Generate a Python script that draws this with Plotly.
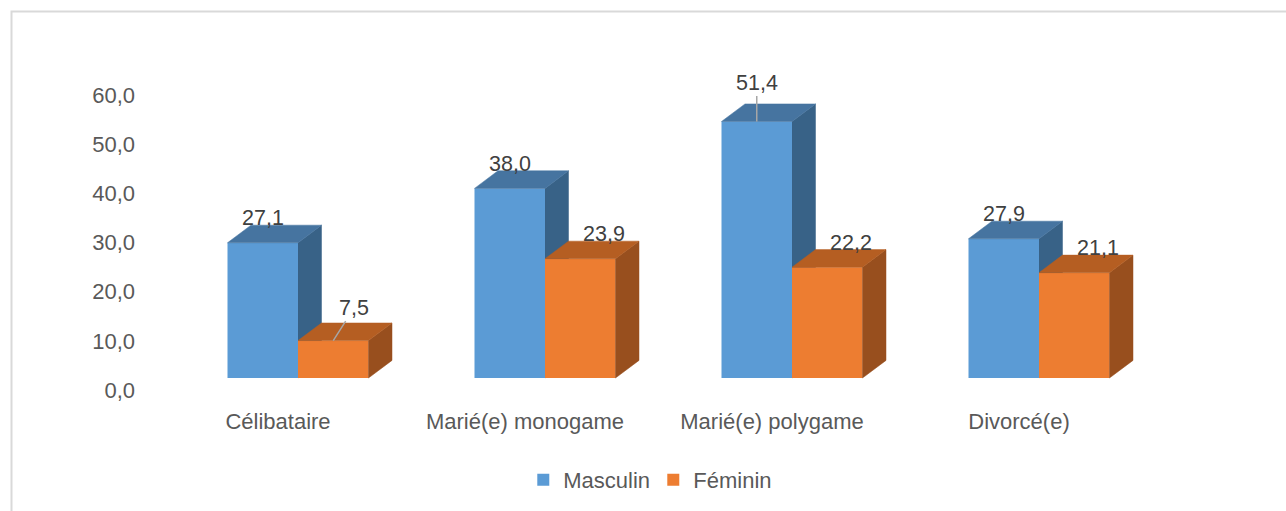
import plotly.graph_objects as go

categories = ["Célibataire", "Marié(e) monogame", "Marié(e) polygame", "Divorcé(e)"]
masculin = [27.1, 38.0, 51.4, 27.9]
feminin = [7.5, 23.9, 22.2, 21.1]
y_ticks = [0, 10, 20, 30, 40, 50, 60]

# pixel layout of the picture (Excel-like 3D columns)
W, H = 1286, 511
L, R, T, B = 150, 1180, 60, 400
X_PX = 247.0    # px between two categories
Y_PX = 4.99     # px per unit on the front faces
BASE_PX = 378   # pixel row of 0 on the front faces
X0_PX = 298     # pixel column of the first category
x_range = [(L - X0_PX) / X_PX, (R - X0_PX) / X_PX]
y_range = [(BASE_PX - B) / Y_PX, (BASE_PX - T) / Y_PX]
# axis labels sit on the back wall: 0 at 390 px, 60 at 95 px
LAB_PX = (390 - 95) / 60
lab_range = [(390 - B) / LAB_PX, (390 - T) / LAB_PX]

bar_w = 70.5 / X_PX
DX_PX, DY_PX = 23.5, 17.6
dx = DX_PX / X_PX
dy = DY_PX / Y_PX

series = [
    ("Masculin", masculin, -bar_w, "#5B9BD5", "#4674A0", "#386287"),
    ("Féminin", feminin, 0.0, "#ED7D31", "#B55E22", "#984F1E"),
]
# labels pulled away from the column with a leader line (pixel offsets)
callouts = {("Féminin", 0): (21, -33), ("Masculin", 2): (0, -39)}

xs = list(range(len(categories)))
fig = go.Figure()


def face(px, py, color, axes):
    fig.add_trace(go.Scatter(
        x=px, y=py, fill="toself", fillcolor=color, mode="lines",
        line=dict(width=0.5, color=color), hoverinfo="skip", showlegend=False,
        xaxis=axes[0], yaxis=axes[1],
    ))


# side faces of the front series go on the base subplot (drawn first)
for name, vals, off, front, top, side in series:
    axes = ("x", "y") if off < 0 else ("x2", "y2")
    for i, v in zip(xs, vals):
        x1 = i + off + bar_w
        face([x1, x1 + dx, x1 + dx, x1, x1], [0, dy, v + dy, v, 0], side, axes)
    for i, v in zip(xs, vals):
        x0 = i + off
        x1 = x0 + bar_w
        face([x0, x1, x1 + dx, x0 + dx, x0], [v, v, v + dy, v + dy, v], top, ("x2", "y2"))
    fig.add_trace(go.Bar(
        x=xs, y=vals, name=name, offset=off, width=bar_w,
        marker=dict(color=front, line=dict(width=0)),
        xaxis="x2", yaxis="y2", hoverinfo="name+y",
    ))

# invisible trace so the back-wall value axis gets drawn
fig.add_trace(go.Scatter(
    x=[x_range[0]] * len(y_ticks), y=y_ticks, mode="markers",
    marker=dict(opacity=0), hoverinfo="skip", showlegend=False,
    xaxis="x", yaxis="y3",
))

annotations = []
for name, vals, off, front, top, side in series:
    for i, v in zip(xs, vals):
        txt = f"{v:.1f}".replace(".", ",")
        cx = i + off + bar_w / 2
        font = dict(family="Liberation Sans, Arial", size=21.5, color="#404040")
        if (name, i) in callouts:
            ax, ay = callouts[(name, i)]
            annotations.append(dict(
                x=cx, y=v, xref="x2", yref="y2", text=txt, font=font,
                showarrow=True, arrowhead=0, arrowwidth=1.5, arrowcolor="#A6A6A6",
                ax=ax, ay=ay, standoff=0,
            ))
        else:
            annotations.append(dict(
                x=cx, y=v + dy, xref="x2", yref="y2", text=txt, font=font,
                showarrow=False, yanchor="bottom", yshift=-7,
                xshift=DX_PX if off >= 0 else 0,
            ))

# light frame of the chart area (left and top edges)
def px2paper(px, py):
    return (px - L) / (R - L), (B - py) / (B - T)


fx0, fy0 = px2paper(11.5, H)
fx1, fy1 = px2paper(11.5, 11.5)
fx2, _ = px2paper(W, 11.5)
shapes = [dict(
    type="path", xref="paper", yref="paper",
    path=f"M {fx0} {fy0} L {fx1} {fy1} L {fx2} {fy1}",
    line=dict(color="#D9D9D9", width=2),
)]

axis_font = dict(family="Liberation Sans, Arial", size=22, color="#595959")
hidden = dict(visible=False, showgrid=False, zeroline=False)
fig.update_layout(
    width=W, height=H,
    margin=dict(l=L, r=W - R, t=T, b=H - B),
    paper_bgcolor="white", plot_bgcolor="white",
    separators=", ",
    barmode="overlay",
    showlegend=True,
    font=axis_font,
    xaxis=dict(
        range=x_range, tickvals=xs, ticktext=categories, tickfont=axis_font,
        showgrid=False, zeroline=False, showline=False, ticks="",
        ticklabelshift=-20, ticklabelstandoff=6,
    ),
    yaxis=dict(range=y_range, showgrid=False, zeroline=False,
               showticklabels=False, ticks=""),
    xaxis2=dict(range=x_range, overlaying="x", **hidden),
    yaxis2=dict(range=y_range, overlaying="y", **hidden),
    yaxis3=dict(
        range=lab_range, overlaying="y", anchor="x", side="left",
        tickvals=y_ticks, tickformat=".1f", tickfont=axis_font,
        showgrid=False, zeroline=False, showline=False, ticks="",
        ticklabelstandoff=14,
    ),
    legend=dict(
        orientation="h", xref="container", yref="container",
        x=0.508, y=1 - 480 / H, xanchor="center", yanchor="middle",
        font=axis_font, itemclick=False, entrywidth=85,
    ),
    annotations=annotations,
    shapes=shapes,
)

fig.write_html(
    "out.html",
    config={"displayModeBar": False},
    post_script="document.body.style.margin = '0';",
)
